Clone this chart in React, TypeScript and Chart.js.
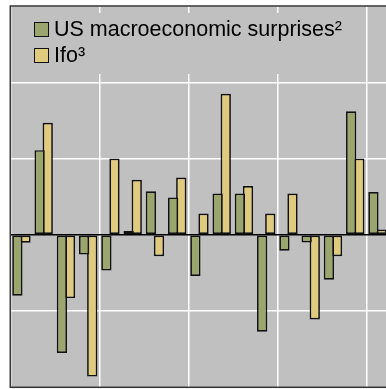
import React, { useEffect, useRef } from "react";
import { Chart, registerables } from "chart.js";

Chart.register(...registerables);

// Quarterly periods along the x axis (one year per block of four)
const quarters = [
  "Q1", "Q2", "Q3", "Q4",
  "Q1", "Q2", "Q3", "Q4",
  "Q1", "Q2", "Q3", "Q4",
  "Q1", "Q2", "Q3", "Q4",
  "Q1",
];

// Standardised values
const usSurprises = [
  -0.8, 1.11, -1.55, -0.26,
  -0.47, 0.05, 0.57, 0.49,
  -0.54, 0.54, 0.54, -1.27,
  -0.21, -0.1, -0.59, 1.62,
  0.56,
];
const ifo = [
  -0.105, 1.47, -0.83, -1.86,
  1.0, 0.72, -0.28, 0.75,
  0.28, 1.85, 0.64, 0.28,
  0.54, -1.11, -0.28, 1.0,
  0.07,
];

const seriesLabels = ["US macroeconomic surprises²", "Ifo³"];
const yTicks = [-2, -1, 0, 1, 2, 3];

const GREEN = "#9ba66e";
const YELLOW = "#dfca7d";
const PANEL = "#c0c0c0";
const EDGE = "#111111";
const FRAME = "#333333";
const FONT = '"Liberation Sans", Arial, Helvetica, sans-serif';

// Grey panel, dark frame and the in-plot legend
const panelPlugin = {
  id: "panel",
  beforeDraw(chart: any) {
    const { ctx, chartArea: a } = chart;
    ctx.save();
    ctx.fillStyle = PANEL;
    ctx.fillRect(a.left, a.top, a.right - a.left, a.bottom - a.top);
    ctx.restore();
  },
  beforeDatasetsDraw(chart: any) {
    const { ctx, chartArea: a } = chart;
    ctx.save();
    // legend box hides the grid behind it
    ctx.fillStyle = PANEL;
    ctx.fillRect(a.left + 2, 13, 338, 61);
    ctx.strokeStyle = FRAME;
    ctx.lineWidth = 1.5;
    ctx.strokeRect(a.left, a.top, a.right - a.left, a.bottom - a.top);
    ctx.restore();
  },
  afterDraw(chart: any) {
    const { ctx } = chart;
    ctx.save();
    ctx.font = `21.5px ${FONT}`;
    ctx.textBaseline = "alphabetic";
    chart.data.datasets.forEach((ds: any, i: number) => {
      const y = 22.5 + i * 26;
      ctx.fillStyle = ds.backgroundColor;
      ctx.fillRect(34.5, y, 14, 14);
      ctx.strokeStyle = EDGE;
      ctx.lineWidth = 1;
      ctx.strokeRect(34.5, y, 14, 14);
      ctx.fillStyle = "#000";
      ctx.fillText(ds.label, 54, y + 13);
    });
    ctx.restore();
  },
};

export default function App() {
  const canvasRef = useRef<HTMLCanvasElement>(null);

  useEffect(() => {
    if (!canvasRef.current) return;
    const chart = new Chart(canvasRef.current, {
      type: "bar",
      data: {
        labels: quarters,
        datasets: [
          {
            label: seriesLabels[0],
            data: usSurprises,
            backgroundColor: GREEN,
            borderColor: EDGE,
            borderWidth: 1.7,
            borderSkipped: false,
          },
          {
            label: seriesLabels[1],
            data: ifo,
            backgroundColor: YELLOW,
            borderColor: EDGE,
            borderWidth: 1.7,
            borderSkipped: false,
          },
        ],
      },
      options: {
        responsive: false,
        animation: false,
        devicePixelRatio: 1,
        layout: { padding: { left: 10.3, top: 6, right: 11.4, bottom: 1.7 } },
        datasets: {
          bar: { categoryPercentage: 0.728, barPercentage: 1.27 },
        },
        plugins: {
          legend: { display: false },
          tooltip: { enabled: false },
        },
        scales: {
          x: {
            offset: true,
            ticks: { display: false },
            border: { display: false },
            grid: {
              offset: true,
              drawTicks: false,
              lineWidth: 1.5,
              color: (c: any) => (c.index % 4 === 0 ? "#ffffff" : "rgba(0,0,0,0)"),
            },
          },
          y: {
            min: yTicks[0],
            max: yTicks[yTicks.length - 1],
            ticks: { display: false, stepSize: 1 },
            border: { display: false },
            grid: {
              drawTicks: false,
              lineWidth: 1.5,
              color: (c: any) =>
                c.tick && c.tick.value === 0 ? "#000000" : "#ffffff",
            },
          },
        },
      },
      plugins: [panelPlugin],
    });
    return () => chart.destroy();
  }, []);

  return (
    <div
      style={{
        position: "absolute",
        left: 0,
        top: 0,
        width: 386,
        height: 389,
        overflow: "hidden",
        background: "#ffffff",
      }}
    >
      <canvas
        ref={canvasRef}
        width={400}
        height={389}
        style={{ display: "block", width: 400, height: 389 }}
      />
    </div>
  );
}
